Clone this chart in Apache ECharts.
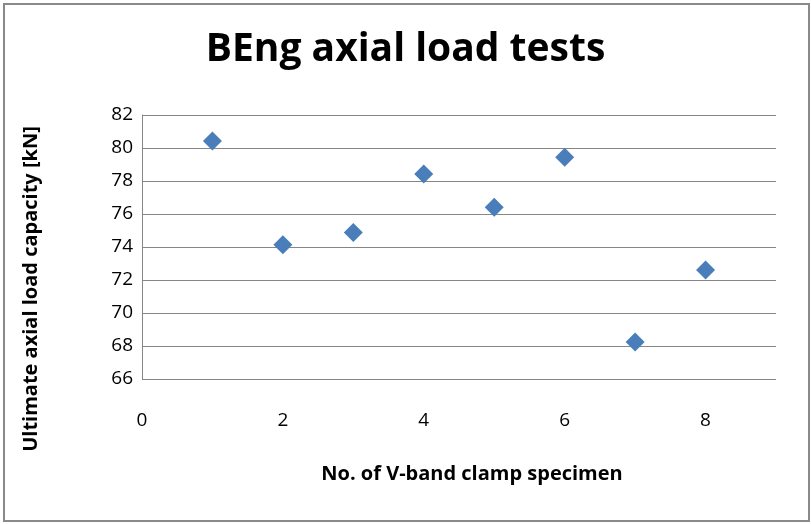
<!DOCTYPE html>
<html>
<head>
<meta charset="utf-8">
<script src="https://cdn.jsdelivr.net/npm/echarts@6/dist/echarts.min.js"></script>
<style>
html,body{margin:0;padding:0;background:#fff;}
#chart{width:811px;height:524px;}
</style>
</head>
<body>
<div id="chart"></div>
<script>
const titleText = 'BEng axial load tests';
const xAxisName = 'No. of V-band clamp specimen';
const yAxisName = 'Ultimate axial load capacity [kN]';
const specimenNo = [1, 2, 3, 4, 5, 6, 7, 8];
const loadCapacity = [80.43, 74.14, 74.88, 78.43, 76.41, 79.44, 68.25, 72.6];

const FONT = '"Open Sans", "Noto Sans", sans-serif';
const chart = echarts.init(document.getElementById('chart'), null, {renderer: 'canvas'});
chart.setOption({
  backgroundColor: '#fff',
  animation: false,
  graphic: [{
    type: 'rect',
    shape: {x: 4, y: 4, width: 805, height: 517},
    style: {fill: 'none', stroke: '#8a8a8a', lineWidth: 2},
    silent: true
  }, {
    type: 'text',
    x: 472, y: 474,
    style: {text: xAxisName, fontFamily: FONT, fontWeight: 'bold', fontSize: 20,
      fill: '#000', align: 'center', verticalAlign: 'middle'},
    silent: true
  }, {
    type: 'text',
    x: 31, y: 289,
    rotation: Math.PI / 2,
    style: {text: yAxisName, fontFamily: FONT, fontWeight: 'bold', fontSize: 20,
      fill: '#000', align: 'center', verticalAlign: 'middle'},
    silent: true
  }],
  title: {
    text: titleText,
    left: 'center',
    top: 25,
    textStyle: {fontFamily: FONT, fontWeight: 'bold', fontSize: 39, color: '#000'}
  },
  grid: {left: 142, top: 115, right: 35, bottom: 145},
  xAxis: {
    type: 'value',
    min: 0, max: 9, interval: 2,
    axisLine: {show: false},
    axisTick: {show: false},
    splitLine: {show: false},
    axisLabel: {fontFamily: FONT, fontSize: 19, color: '#000', margin: 32,
      formatter: v => (v % 2 === 0 && v <= 8) ? String(v) : ''}
  },
  yAxis: {
    type: 'value',
    min: 66, max: 82, interval: 2,
    axisLine: {show: true, lineStyle: {color: '#868686', width: 1}},
    axisTick: {show: false},
    splitLine: {show: true, lineStyle: {color: '#868686', width: 1}},
    axisLabel: {fontFamily: FONT, fontSize: 19, color: '#000', margin: 9}
  },
  series: [{
    type: 'scatter',
    symbol: 'diamond',
    symbolSize: 19,
    itemStyle: {color: '#4a7ebb', opacity: 1},
    data: specimenNo.map((x, i) => [x, loadCapacity[i]])
  }]
});
</script>
</body>
</html>
